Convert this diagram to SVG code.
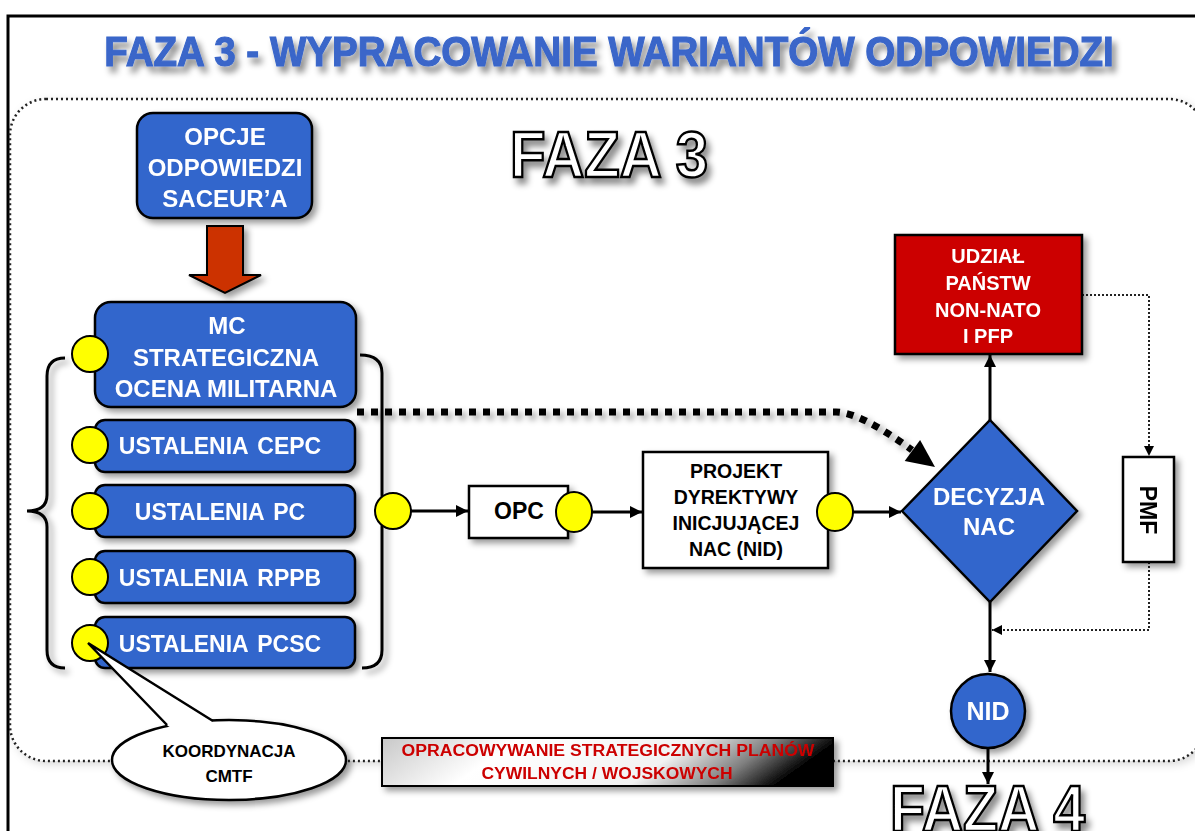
<svg xmlns="http://www.w3.org/2000/svg" width="1195" height="831" viewBox="0 0 1195 831">
  <defs>
    <style>
      .blue { fill:#3366CC; stroke:#000; stroke-width:2.5; }
      .white { fill:#fff; stroke:#000; stroke-width:2.5; }
      .yc { fill:#FFFF00; stroke:#000; stroke-width:2; }
      .t { font-family:"Liberation Sans", Arial, sans-serif; font-weight:bold; text-anchor:middle; }
      .tw { fill:#fff; }
      .tb { fill:#000; }
      .ln { fill:none; stroke:#000; stroke-width:3; }
      .dot { fill:none; stroke:#222; stroke-width:2; stroke-dasharray:2 2; }
      .outline { font-family:"Liberation Sans", Arial, sans-serif; font-weight:bold; fill:#fff; stroke:#000; stroke-width:2.5; }
      .red { font-family:"Liberation Sans", Arial, sans-serif; font-weight:bold; text-anchor:middle; fill:#CC0000; font-size:16px; }
    </style>
    <filter id="sh" x="-20%" y="-20%" width="150%" height="150%">
      <feDropShadow dx="4" dy="4" stdDeviation="3" flood-color="#000" flood-opacity="0.4"/>
    </filter>
    <filter id="tsh" x="-10%" y="-50%" width="125%" height="220%">
      <feDropShadow dx="4" dy="6" stdDeviation="3" flood-color="#000" flood-opacity="0.45"/>
    </filter>
    <filter id="soft" x="-5%" y="-5%" width="110%" height="110%">
      <feDropShadow dx="3" dy="3" stdDeviation="4" flood-color="#000" flood-opacity="0.15"/>
    </filter>
    <marker id="arr" viewBox="0 0 10 10" refX="10" refY="5" markerUnits="userSpaceOnUse" markerWidth="13" markerHeight="12" orient="auto">
      <path d="M0,0 L10,5 L0,10 z" fill="#000"/>
    </marker>
    <marker id="arrS" viewBox="0 0 10 10" refX="10" refY="5" markerUnits="userSpaceOnUse" markerWidth="10" markerHeight="10" orient="auto">
      <path d="M0,0 L10,5 L0,10 z" fill="#000"/>
    </marker>
    <linearGradient id="bannerFill" x1="0" y1="0" x2="1" y2="0.15">
      <stop offset="0" stop-color="#c8c8c8"/>
      <stop offset="0.3" stop-color="#ffffff"/>
      <stop offset="0.68" stop-color="#f2f2f2"/>
      <stop offset="0.86" stop-color="#808080"/>
      <stop offset="1" stop-color="#000"/>
    </linearGradient>
  </defs>

  <rect x="0" y="0" width="1195" height="831" fill="#fff"/>

  <!-- slide frame -->
  <path d="M8,831 L8,16 L1195,16" fill="none" stroke="#000" stroke-width="3"/>

  <!-- title, narrowed horizontally -->
  <g filter="url(#tsh)">
    <text transform="translate(609,66) scale(0.897,1)" x="0" y="0" text-anchor="middle" font-family="'Liberation Sans', Arial, sans-serif" font-weight="bold" font-size="43" fill="#3A66C9" stroke="#3A66C9" stroke-width="1.2">FAZA 3 - WYPRACOWANIE WARIANTÓW ODPOWIEDZI</text>
  </g>

  <!-- phase area -->
  <rect x="10" y="99" width="1195" height="662" rx="36" fill="#fff" stroke="#222" stroke-width="2.5" stroke-dasharray="2 3" filter="url(#soft)"/>

  <text class="outline" x="510" y="177" font-size="64" textLength="198" lengthAdjust="spacingAndGlyphs" filter="url(#tsh)">FAZA 3</text>
  <text class="outline" x="890" y="831" font-size="64" textLength="195" lengthAdjust="spacingAndGlyphs" filter="url(#tsh)">FAZA 4</text>

  <!-- connectors -->
  <g id="connectors">
    <!-- block arrow SACEUR -> MC -->
    <path d="M207,226 L243,226 L243,275 L261,275 L225,293 L189,275 L207,275 Z" fill="#CC3300" stroke="#000" stroke-width="2" filter="url(#sh)"/>
    <!-- braces -->
    <path class="ln" d="M65,358 Q47,358 47,376 L47,495 Q47,511 27,511 Q47,511 47,527 L47,650 Q47,668 65,668" stroke-width="3.5" filter="url(#sh)"/>
    <path class="ln" d="M360,355 Q382,355 382,373 L382,495 Q382,511 398,511 Q382,511 382,527 L382,650 Q382,668 362,668" stroke-width="3.5" filter="url(#sh)"/>
    <!-- main flow -->
    <line class="ln" x1="411" y1="511" x2="468" y2="511" marker-end="url(#arr)"/>
    <line class="ln" x1="592" y1="512" x2="642" y2="512" marker-end="url(#arr)"/>
    <line class="ln" x1="853" y1="512" x2="901" y2="512" marker-end="url(#arr)"/>
    <line class="ln" x1="990" y1="420" x2="990" y2="355" marker-end="url(#arr)"/>
    <line class="ln" x1="990" y1="602" x2="990" y2="672" marker-end="url(#arr)"/>
    <line class="ln" x1="988" y1="748" x2="988" y2="784" marker-end="url(#arr)"/>
    <!-- PMF loop -->
    <path class="dot" d="M1082,295 L1149,295 L1149,456" marker-end="url(#arrS)"/>
    <path class="dot" d="M1149,562 L1149,630 L992,630" marker-end="url(#arrS)"/>
    <!-- assessment to decision -->
    <path d="M357,412 L836,412 Q860,412 912,450" fill="none" stroke="#000" stroke-width="7" stroke-dasharray="7 7" filter="url(#sh)"/>
    <polygon points="935,467 904.7,461 920.1,440" fill="#000"/>
  </g>

  <!-- nodes -->
  <g id="node-opcje" filter="url(#sh)">
    <rect class="blue" x="137" y="113" width="175" height="105" rx="16"/>
    <text class="t tw" x="225" font-size="24"><tspan x="225" y="145">OPCJE</tspan><tspan x="225" y="176">ODPOWIEDZI</tspan><tspan x="225" y="207">SACEUR’A</tspan></text>
  </g>

  <g id="node-mc" filter="url(#sh)">
    <rect class="blue" x="95" y="302" width="261" height="105" rx="16"/>
    <text class="t tw" font-size="24"><tspan x="227" y="334">MC</tspan><tspan x="226" y="366">STRATEGICZNA</tspan><tspan x="226" y="397">OCENA MILITARNA</tspan></text>
  </g>
  <circle class="yc" cx="90" cy="354" r="18"/>

  <g id="node-cepc" filter="url(#sh)">
    <rect class="blue" x="95" y="420" width="260" height="52" rx="10"/>
    <text class="t tw" x="220" y="454" font-size="23" word-spacing="3">USTALENIA CEPC</text>
  </g>
  <circle class="yc" cx="90" cy="445" r="18"/>

  <g id="node-pc" filter="url(#sh)">
    <rect class="blue" x="95" y="485" width="260" height="52" rx="10"/>
    <text class="t tw" x="220" y="520" font-size="23" word-spacing="3">USTALENIA PC</text>
  </g>
  <circle class="yc" cx="90" cy="511" r="18"/>

  <g id="node-rppb" filter="url(#sh)">
    <rect class="blue" x="95" y="551" width="260" height="52" rx="10"/>
    <text class="t tw" x="220" y="586" font-size="23" word-spacing="3">USTALENIA RPPB</text>
  </g>
  <circle class="yc" cx="90" cy="577" r="18"/>

  <g id="node-pcsc" filter="url(#sh)">
    <rect class="blue" x="95" y="617" width="260" height="51" rx="10"/>
    <text class="t tw" x="220" y="652" font-size="23" word-spacing="3">USTALENIA PCSC</text>
  </g>
  <circle class="yc" cx="90" cy="643" r="18"/>

  <circle class="yc" cx="393" cy="511" r="18"/>

  <g id="node-opc">
    <rect class="white" x="469" y="486" width="99" height="52" filter="url(#sh)"/>
    <text class="t tb" x="519" y="519" font-size="23">OPC</text>
    <ellipse class="yc" cx="574" cy="512" rx="18" ry="20"/>
  </g>

  <g id="node-projekt">
    <rect class="white" x="643" y="452" width="185" height="116" filter="url(#sh)"/>
    <text class="t tb" font-size="19.5"><tspan x="736" y="478">PROJEKT</tspan><tspan x="736" y="504">DYREKTYWY</tspan><tspan x="736" y="530">INICJUJĄCEJ</tspan><tspan x="736" y="556">NAC (NID)</tspan></text>
    <ellipse class="yc" cx="835" cy="512" rx="18" ry="19"/>
  </g>

  <g id="node-decyzja" filter="url(#sh)">
    <polygon class="blue" points="990,420 1077,511 990,602 902,511"/>
    <text class="t tw" font-size="24"><tspan x="989" y="505">DECYZJA</tspan><tspan x="989" y="535">NAC</tspan></text>
  </g>

  <g id="node-udzial" filter="url(#sh)">
    <rect x="895" y="235" width="187" height="119" fill="#CC0000" stroke="#000" stroke-width="2.5"/>
    <text class="t tw" font-size="20"><tspan x="988" y="263">UDZIAŁ</tspan><tspan x="988" y="290">PAŃSTW</tspan><tspan x="988" y="317">NON-NATO</tspan><tspan x="988" y="343">I PFP</tspan></text>
  </g>

  <g id="node-pmf" filter="url(#sh)">
    <rect class="white" x="1123" y="457" width="51" height="105"/>
    <text class="t tb" font-size="23" transform="translate(1148,510) rotate(90)" x="0" y="8">PMF</text>
  </g>

  <g id="node-nid" filter="url(#sh)">
    <circle class="blue" cx="988" cy="711" r="37"/>
    <text class="t tw" x="988" y="720" font-size="25">NID</text>
  </g>

  <g id="node-koordynacja">
    <ellipse cx="229" cy="760" rx="117" ry="40" fill="#fff" stroke="#000" stroke-width="2.5" filter="url(#sh)"/>
    <polygon points="88,643 168,726 190,738 213,721" fill="#fff"/>
    <path d="M88,643 L167,725 M88,643 L213,721" fill="none" stroke="#000" stroke-width="2.5"/>
    <text class="t tb" font-size="17"><tspan x="229" y="757">KOORDYNACJA</tspan><tspan x="229" y="782">CMTF</tspan></text>
  </g>

  <g id="node-plany" filter="url(#sh)">
    <rect x="382" y="738" width="451" height="48" fill="url(#bannerFill)" stroke="#000" stroke-width="2"/>
    <text class="red" x="608" y="756" textLength="413" lengthAdjust="spacingAndGlyphs">OPRACOWYWANIE STRATEGICZNYCH  PLANÓW</text>
    <text class="red" x="607" y="779" textLength="251" lengthAdjust="spacingAndGlyphs">CYWILNYCH / WOJSKOWYCH</text>
  </g>
</svg>
